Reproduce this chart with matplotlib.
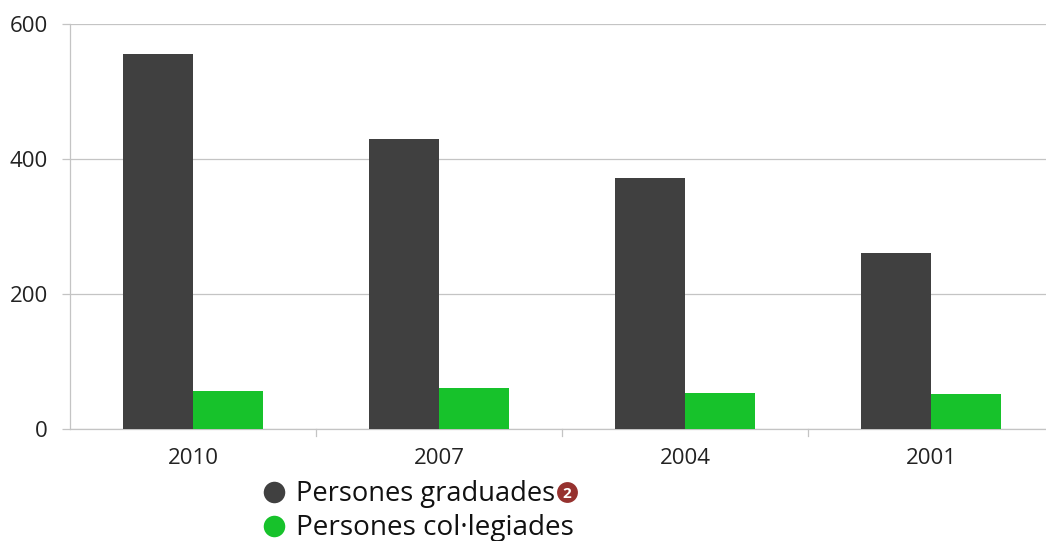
import matplotlib
matplotlib.use("Agg")
import matplotlib.pyplot as plt

# values
years = ["2010", "2007", "2004", "2001"]
graduades = [556, 430, 372, 261]
collegiades = [57, 61, 53, 52]
y_ticks = [0, 200, 400, 600]

plt.rcParams['font.family'] = ['Open Sans', 'DejaVu Sans']

W, H = 1046, 541
fig = plt.figure(figsize=(W / 100, H / 100), dpi=100)
ax = fig.add_axes([70 / W, 1 - 429 / H, (1046 - 70) / W, (429 - 24) / H])

x = range(len(years))
bar_w = 70 / 246
ax.bar([i - bar_w / 2 for i in x], graduades, bar_w, color="#404040", zorder=3)
ax.bar([i + bar_w / 2 for i in x], collegiades, bar_w, color="#17c22b", zorder=3)

ax.set_xlim(-0.5, 3.467)
ax.set_ylim(0, 600)
ax.set_yticks(y_ticks)
ax.set_xticks(list(x))
ax.set_xticklabels(years)
ax.tick_params(axis='x', length=0, labelsize=16, pad=14, colors="#222222")
ax.tick_params(axis='y', length=6, width=0.9, color="#c4c4c4", labelsize=16, pad=10, labelcolor="#222222")
ax.grid(axis='y', color="#c4c4c4", lw=0.9, zorder=0)
for s in ['top', 'right']:
    ax.spines[s].set_visible(False)
for s in ['left', 'bottom']:
    ax.spines[s].set_color("#c4c4c4")
    ax.spines[s].set_linewidth(0.9)

# small separators between the year groups
for b in [0.5, 1.5, 2.5]:
    ax.plot([b, b], [0, -10], color="#c4c4c4", lw=0.9, clip_on=False)

# legend, drawn in pixel coordinates
leg = fig.add_axes([0, 0, 1, 1])
leg.axis('off')
leg.set_xlim(0, W)
leg.set_ylim(H, 0)
leg.plot(273.5, 492, 'o', ms=15.5, mew=0, color="#404040")
leg.plot(273.5, 526, 'o', ms=15.5, mew=0, color="#17c22b")
leg.text(296, 494, "Persones graduades", fontsize=19.6, va='center', color="#111111")
leg.text(296, 528, "Persones col\u00b7legiades", fontsize=20.1, va='center', color="#111111")
leg.plot(567, 492, 'o', ms=15, mew=0, color="#96322f")
leg.text(567, 493.5, "2", fontsize=11, fontweight='bold', ha='center', va='center', color="white")

fig.savefig("out.png", dpi=100)
